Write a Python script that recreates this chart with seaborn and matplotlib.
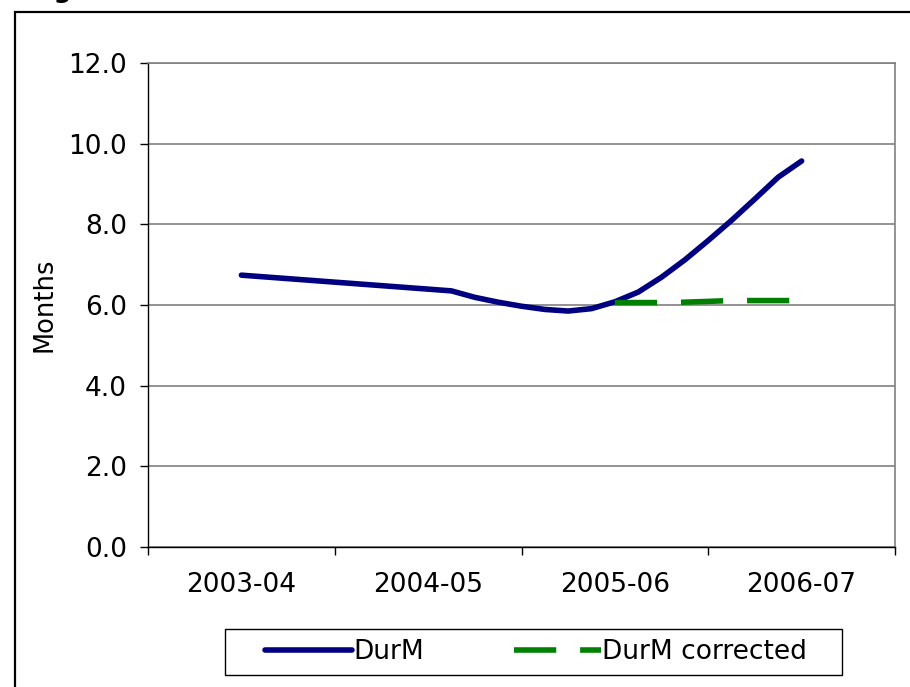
import pandas as pd
import seaborn as sns
import matplotlib.pyplot as plt
from matplotlib.patches import Rectangle

# Category labels (financial years) shown on the x axis
years = ["2003-04", "2004-05", "2005-06", "2006-07"]

# DurM series: position along the axis (in years from start of 2003-04) and months
durm_x = [0.5, 1.625, 1.75, 1.875, 2.0, 2.125, 2.25, 2.375, 2.5,
          2.625, 2.75, 2.875, 3.0, 3.125, 3.25, 3.375, 3.5]
durm_y = [6.74, 6.35, 6.19, 6.07, 5.97, 5.89, 5.85, 5.91, 6.08,
          6.32, 6.69, 7.12, 7.60, 8.10, 8.63, 9.17, 9.57]

# DurM corrected series
corr_x = [2.5, 2.625, 2.75, 2.875, 3.0, 3.125, 3.25, 3.375, 3.5]
corr_y = [6.06, 6.06, 6.06, 6.07, 6.09, 6.11, 6.11, 6.11, 6.11]

df = pd.concat([
    pd.DataFrame({"x": durm_x, "months": durm_y, "series": "DurM"}),
    pd.DataFrame({"x": corr_x, "months": corr_y, "series": "DurM corrected"}),
], ignore_index=True)

sns.set_style("white")
plt.rcParams["font.family"] = ["DejaVu Sans"]
plt.rcParams["text.color"] = "black"
plt.rcParams["axes.labelcolor"] = "black"
plt.rcParams["xtick.color"] = "black"
plt.rcParams["ytick.color"] = "black"

FS = 19
W, H = 910, 687
fig = plt.figure(figsize=(W / 100, H / 100), dpi=100)
ax = fig.add_axes([148 / W, 1 - 547 / H, (895 - 148) / W, (547 - 63) / H])

sns.lineplot(data=df, x="x", y="months", hue="series", style="series",
             palette={"DurM": "#000080", "DurM corrected": "#008000"},
             dashes={"DurM": "", "DurM corrected": (7.6, 4.3)},
             linewidth=4, ax=ax, sort=False)
for ln in ax.lines:
    ln.set_solid_capstyle("round")
    ln.set_solid_joinstyle("round")
    ln.set_dash_capstyle("butt")

# axes styling (Excel-like)
ax.set_xlim(0, 4)
ax.set_ylim(0, 12)
ax.set_yticks(range(0, 13, 2))
ax.set_yticklabels([f"{v:.1f}" for v in range(0, 13, 2)])
ax.yaxis.grid(True, color="#808080", linewidth=1.2)
ax.set_axisbelow(True)
ax.tick_params(axis="y", direction="out", length=6, width=1, color="black",
               labelsize=FS, pad=9, left=True)

ax.set_xticks(range(0, 5))
ax.set_xticklabels([""] * 5)
ax.set_xticks([i + 0.5 for i in range(4)], minor=True)
ax.set_xticklabels(years, minor=True)
ax.tick_params(axis="x", which="major", direction="out", length=6, width=1,
               color="black", bottom=True)
ax.tick_params(axis="x", which="minor", length=0, labelsize=FS, pad=18)

ax.set_xlabel("")
ax.set_ylabel("Months", fontsize=18.5, labelpad=8)

for side in ["left", "bottom"]:
    ax.spines[side].set_color("black")
    ax.spines[side].set_linewidth(1)
for side in ["top", "right"]:
    ax.spines[side].set_color("#808080")
    ax.spines[side].set_linewidth(1.2)

# legend with separate box
handles, labels = ax.get_legend_handles_labels()
leg = ax.legend(handles, labels, ncol=2, frameon=False, fontsize=FS,
                handlelength=3.3, handletextpad=0.05, columnspacing=3.4,
                loc="center", bbox_to_anchor=(536 / W, 1 - 652 / H),
                bbox_transform=fig.transFigure)
for ln in leg.get_lines():
    ln.set_solid_capstyle("round")
    ln.set_dash_capstyle("butt")
fig.add_artist(Rectangle((225 / W, 1 - 675 / H), 617 / W, 46 / H,
                         transform=fig.transFigure, fill=False,
                         edgecolor="black", linewidth=1))

# outer chart border
fig.add_artist(Rectangle((15 / W, -0.05), 1.1, 1 - 12 / H + 0.05,
                         transform=fig.transFigure, fill=False,
                         edgecolor="black", linewidth=1.6))

# title cut off at the top of the image (as in the source)
fig.text(29 / W, 1 + 2 / H, "Figure", fontsize=18, fontweight="bold",
         va="baseline", ha="left")

fig.savefig("out.png", dpi=100)
